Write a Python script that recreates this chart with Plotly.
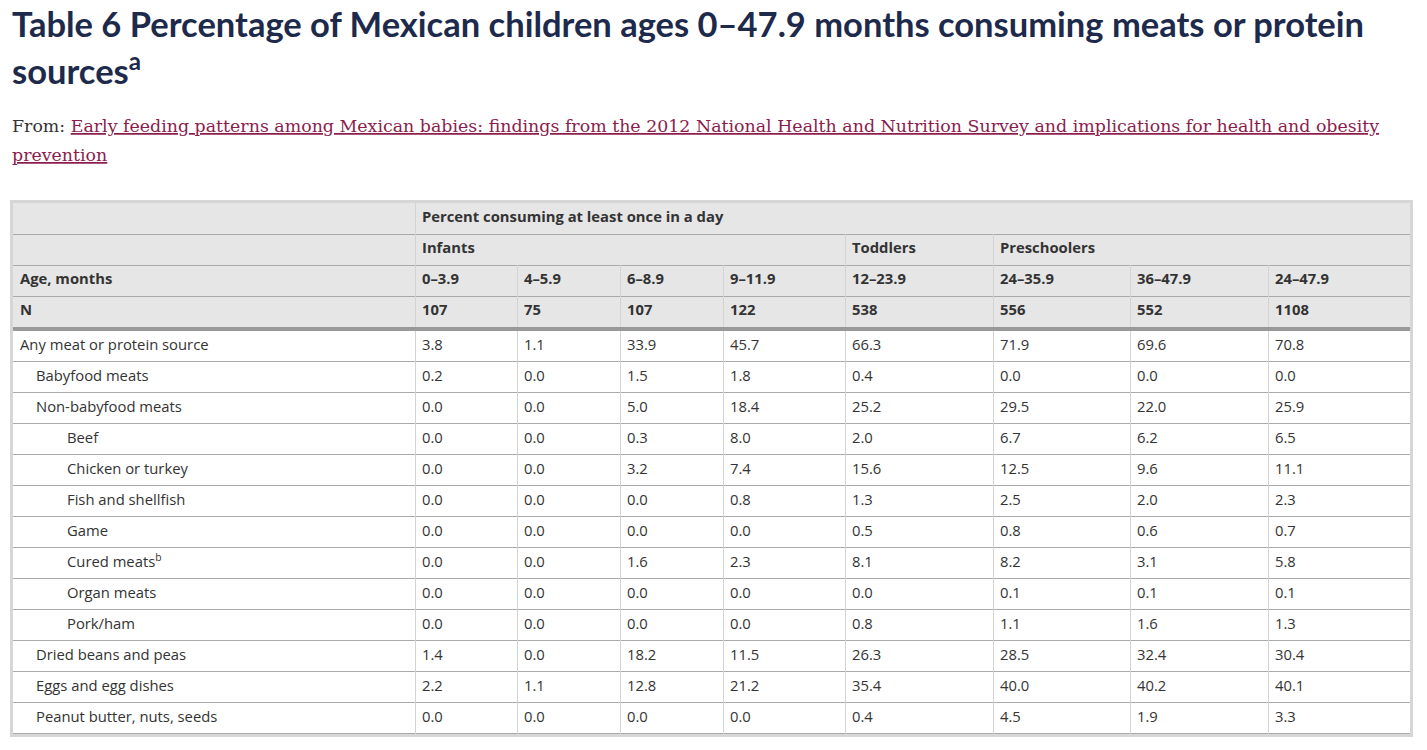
import plotly.graph_objects as go

# ---------------- data ----------------
title_line1 = "Table 6 Percentage of Mexican children ages 0–47.9 months consuming meats or protein"
title_line2 = "sources<sup>a</sup>"
source_prefix = "From: "
source_line1 = "Early feeding patterns among Mexican babies: findings from the 2012 National Health and Nutrition Survey and implications for health and obesity"
source_line2 = "prevention"

top_header = "Percent consuming at least once in a day"
groups = ["Infants", "Toddlers", "Preschoolers"]
group_start_col = [0, 4, 5]          # index of first age column in each group
age_label = "Age, months"
n_label = "N"
age_groups = ["0–3.9", "4–5.9", "6–8.9", "9–11.9", "12–23.9", "24–35.9", "36–47.9", "24–47.9"]
n_values = [107, 75, 107, 122, 538, 556, 552, 1108]

row_labels = ["Any meat or protein source", "Babyfood meats", "Non-babyfood meats", "Beef",
              "Chicken or turkey", "Fish and shellfish", "Game", "Cured meats<sup>b</sup>",
              "Organ meats", "Pork/ham", "Dried beans and peas", "Eggs and egg dishes",
              "Peanut butter, nuts, seeds"]
row_level = [0, 1, 1, 2, 2, 2, 2, 2, 2, 2, 1, 1, 1]

v_0_3 = [3.8, 0.2, 0.0, 0.0, 0.0, 0.0, 0.0, 0.0, 0.0, 0.0, 1.4, 2.2, 0.0]
v_4_5 = [1.1, 0.0, 0.0, 0.0, 0.0, 0.0, 0.0, 0.0, 0.0, 0.0, 0.0, 1.1, 0.0]
v_6_8 = [33.9, 1.5, 5.0, 0.3, 3.2, 0.0, 0.0, 1.6, 0.0, 0.0, 18.2, 12.8, 0.0]
v_9_11 = [45.7, 1.8, 18.4, 8.0, 7.4, 0.8, 0.0, 2.3, 0.0, 0.0, 11.5, 21.2, 0.0]
v_12_23 = [66.3, 0.4, 25.2, 2.0, 15.6, 1.3, 0.5, 8.1, 0.0, 0.8, 26.3, 35.4, 0.4]
v_24_35 = [71.9, 0.0, 29.5, 6.7, 12.5, 2.5, 0.8, 8.2, 0.1, 1.1, 28.5, 40.0, 4.5]
v_36_47 = [69.6, 0.0, 22.0, 6.2, 9.6, 2.0, 0.6, 3.1, 0.1, 1.6, 32.4, 40.2, 1.9]
v_24_47 = [70.8, 0.0, 25.9, 6.5, 11.1, 2.3, 0.7, 5.8, 0.1, 1.3, 30.4, 40.1, 3.3]
value_columns = [v_0_3, v_4_5, v_6_8, v_9_11, v_12_23, v_24_35, v_36_47, v_24_47]

# ---------------- layout constants (pixels, page coordinates) ----------------
VIEW_W, VIEW_H = 1427, 750
PAGE_MARGIN = 8                      # browser default body margin
FIG_W, FIG_H = VIEW_W - 2 * PAGE_MARGIN, VIEW_H - 2 * PAGE_MARGIN
TABLE_LEFT, TABLE_TOP = 13, 203
BORDER = 3
COL_W = [402, 102, 103, 103, 122, 148, 137, 138, 142]
ROW_H = 31
N_HEADER_ROWS = 4
THICK = 4
PAD = 7
INDENT = [0, 16, 47]

FONT = "Open Sans"
FS = 14.8
TEXT_COL = "#333333"
HEADER_BG = "#e6e6e6"
BORDER_COL = "#d6d6d6"
HLINE_COL = "#aaaaaa"
VLINE_COL = "#d3d3d3"
THICK_COL = "#999999"
TITLE_COL = "#1d2a4b"
LINK_COL = "#8b1d4e"

col_edges = [TABLE_LEFT]
for w in COL_W:
    col_edges.append(col_edges[-1] + w)
table_right = col_edges[-1]
header_bottom = TABLE_TOP + N_HEADER_ROWS * ROW_H
body_top = header_bottom + THICK
n_rows = len(row_labels)
body_bottom = body_top + n_rows * ROW_H


def hrow_y(i):
    return TABLE_TOP + i * ROW_H + ROW_H / 2


def brow_y(j):
    return body_top + j * ROW_H + ROW_H / 2


shapes = []


def rect(x0, y0, x1, y1, color):
    shapes.append(dict(type="rect", xref="x", yref="y", x0=x0, y0=y0, x1=x1, y1=y1,
                       fillcolor=color, line=dict(width=0), layer="below"))


def line(x0, y0, x1, y1, color, width=1):
    shapes.append(dict(type="line", xref="x", yref="y", x0=x0, y0=y0, x1=x1, y1=y1,
                       line=dict(color=color, width=width), layer="below"))


# backgrounds
rect(TABLE_LEFT - BORDER, TABLE_TOP - BORDER, table_right + BORDER, body_bottom + BORDER, BORDER_COL)
rect(TABLE_LEFT, TABLE_TOP, table_right, header_bottom, HEADER_BG)
rect(TABLE_LEFT, body_top, table_right, body_bottom, "white")

# horizontal lines
for i in range(1, N_HEADER_ROWS):
    y = TABLE_TOP + i * ROW_H + 0.5
    line(TABLE_LEFT, y, table_right, y, HLINE_COL)
for j in range(1, n_rows + 1):
    y = body_top + j * ROW_H - 0.5
    line(TABLE_LEFT, y, table_right, y, HLINE_COL)

# vertical lines
line(col_edges[1] + 0.5, TABLE_TOP, col_edges[1] + 0.5, body_bottom, VLINE_COL)
group_edges = [col_edges[1 + s] for s in group_start_col[1:]]
for x in group_edges:
    line(x + 0.5, TABLE_TOP + ROW_H, x + 0.5, body_bottom, VLINE_COL)
for k in range(2, len(col_edges) - 1):
    x = col_edges[k]
    if x in group_edges:
        continue
    line(x + 0.5, TABLE_TOP + 2 * ROW_H, x + 0.5, body_bottom, VLINE_COL)
# thick separator under the header, on top of the vertical lines
rect(TABLE_LEFT, header_bottom, table_right, body_top, THICK_COL)

fig = go.Figure()


def add_text(xs, ys, texts, bold=False):
    fig.add_trace(go.Scatter(
        x=xs, y=ys, mode="text", text=[f"<b>{t}</b>" if bold else t for t in texts],
        textposition="middle right",
        textfont=dict(family=FONT, size=FS, color=TEXT_COL),
        hoverinfo="skip", showlegend=False, cliponaxis=False))


# header text
add_text([col_edges[1] + PAD], [hrow_y(0)], [top_header], bold=True)
add_text([col_edges[1 + s] + PAD for s in group_start_col], [hrow_y(1)] * len(groups), groups, bold=True)
add_text([col_edges[0] + PAD] + [col_edges[1 + k] + PAD for k in range(len(age_groups))],
         [hrow_y(2)] * (len(age_groups) + 1), [age_label] + age_groups, bold=True)
add_text([col_edges[0] + PAD] + [col_edges[1 + k] + PAD for k in range(len(n_values))],
         [hrow_y(3)] * (len(n_values) + 1), [n_label] + [str(n) for n in n_values], bold=True)

# body text
add_text([col_edges[0] + PAD + INDENT[l] for l in row_level],
         [brow_y(j) for j in range(n_rows)], row_labels)
for k, col in enumerate(value_columns):
    add_text([col_edges[1 + k] + PAD] * n_rows, [brow_y(j) for j in range(n_rows)],
             [f"{v:.1f}" for v in col])

annotations = [
    dict(text=f"<b>{title_line1}</b>", x=10, y=23, xref="x", yref="y", xanchor="left", yanchor="middle",
         showarrow=False, font=dict(family="Lato", size=34.5, color=TITLE_COL)),
    dict(text=f"<b>{title_line2}</b>", x=10, y=68, xref="x", yref="y", xanchor="left", yanchor="middle",
         showarrow=False, font=dict(family="Lato", size=34.5, color=TITLE_COL)),
    dict(text=f"<span style='color:#333333'>{source_prefix}</span><u>{source_line1}</u>", x=10, y=126,
         xref="x", yref="y", xanchor="left", yanchor="middle", showarrow=False,
         font=dict(family="DejaVu Serif", size=17.4, color=LINK_COL)),
    dict(text=f"<u>{source_line2}</u>", x=10, y=155,
         xref="x", yref="y", xanchor="left", yanchor="middle", showarrow=False,
         font=dict(family="DejaVu Serif", size=17.4, color=LINK_COL)),
]

fig.update_layout(
    width=FIG_W, height=FIG_H, margin=dict(l=0, r=0, t=0, b=0),
    paper_bgcolor="white", plot_bgcolor="white",
    xaxis=dict(range=[PAGE_MARGIN, PAGE_MARGIN + FIG_W], visible=False, fixedrange=True),
    yaxis=dict(range=[PAGE_MARGIN + FIG_H, PAGE_MARGIN], visible=False, fixedrange=True),
    shapes=shapes, annotations=annotations, showlegend=False,
)

fig.write_html("out.html")
